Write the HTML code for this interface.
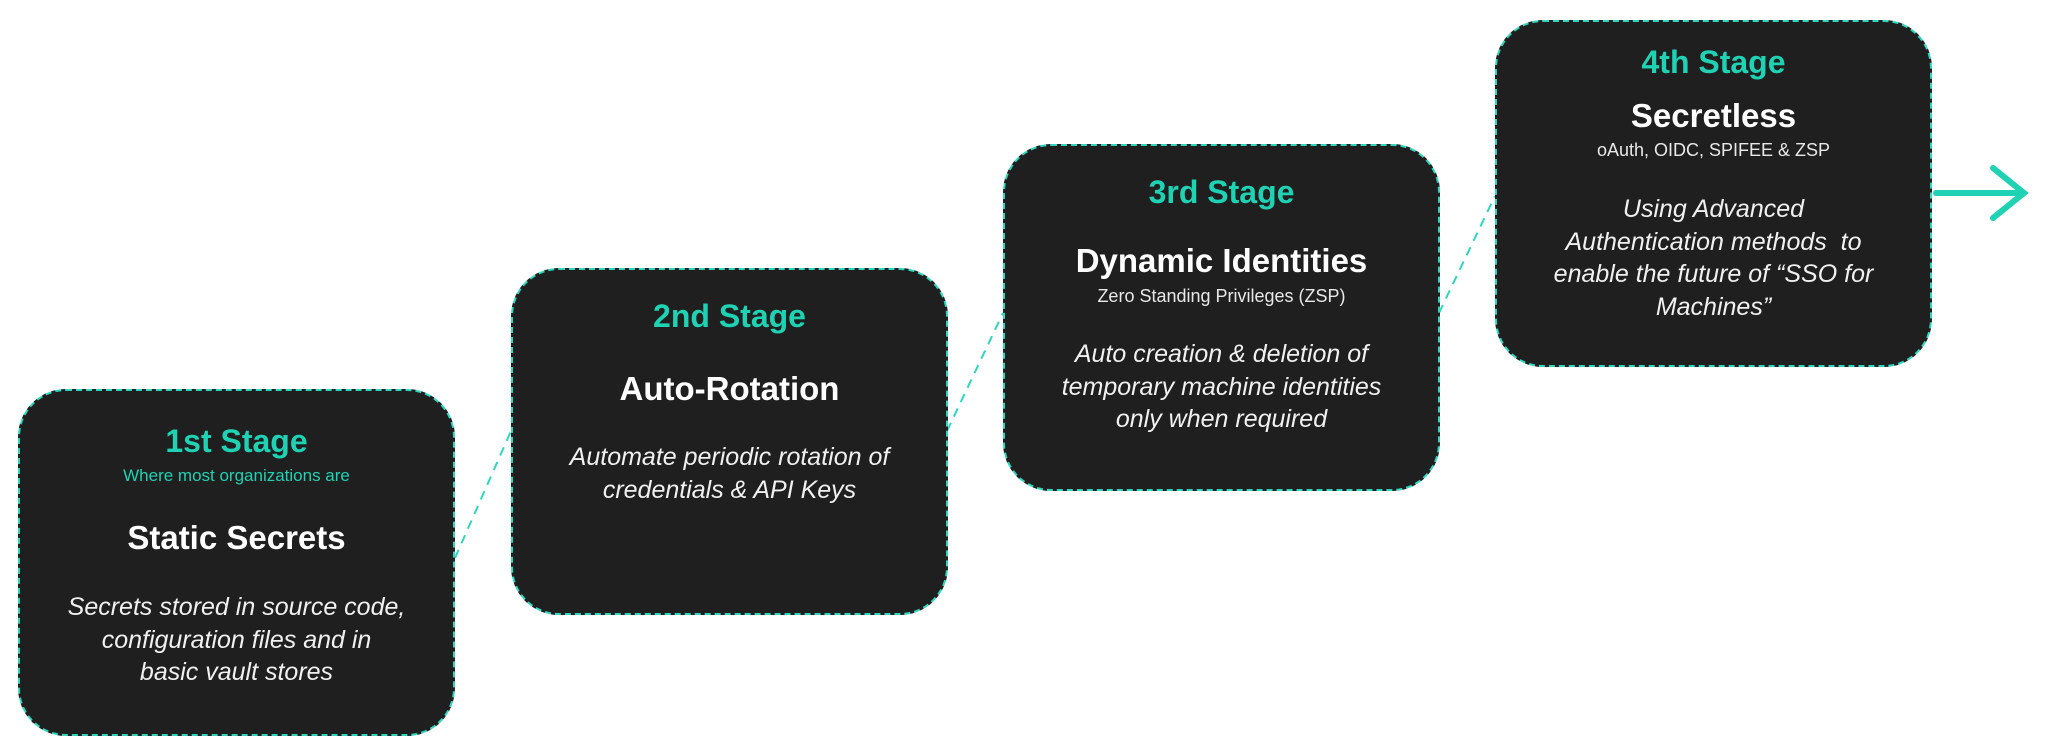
<!DOCTYPE html>
<html><head><meta charset="utf-8"><style>
html,body{margin:0;padding:0;background:#fff;}
.wrap{position:relative;width:2048px;height:756px;overflow:hidden;font-family:"Liberation Sans",sans-serif;}
.box{position:absolute;width:433px;height:343px;background:#1f1f1f;border:2px dashed #2fd6bd;border-radius:48px;box-sizing:content-box;}
.t{position:absolute;left:0;right:0;text-align:center;white-space:nowrap;}
.st{color:#1ed2b3;font-weight:bold;font-size:32px;}
.h{color:#fff;font-weight:bold;font-size:33px;}
.s{color:#e8e8e8;font-size:18px;}
.sg{color:#1ed2b3;font-size:17px;}
.i{color:#f0f0f0;font-style:italic;font-size:25px;line-height:32.5px;}
</style></head><body><div class="wrap">
<svg width="2048" height="756" style="position:absolute;left:0;top:0">
<g stroke="#2fd6bd" stroke-width="2" stroke-dasharray="9,7" fill="none">
<line x1="455" y1="558" x2="511" y2="431"/>
<line x1="947" y1="431" x2="1003" y2="313"/>
<line x1="1439" y1="313" x2="1495" y2="196"/>
</g>
<g stroke="#1ed2b3" stroke-width="6" stroke-linecap="round" fill="none">
<line x1="1936" y1="193" x2="2024" y2="193"/>
<polyline points="1993,168 2024,193 1993,218"/>
</g>
</svg>

<div class="box" style="left:18px;top:389px;">
<div class="t st" style="top:32px;">1st Stage</div>
<div class="t sg" style="top:75px;">Where most organizations are</div>
<div class="t h" style="top:128px;">Static Secrets</div>
<div class="t i" style="top:200px;">Secrets stored in source code,<br>configuration files and in<br>basic vault stores</div>
</div>

<div class="box" style="left:511px;top:268px;">
<div class="t st" style="top:28px;">2nd Stage</div>
<div class="t h" style="top:100px;">Auto-Rotation</div>
<div class="t i" style="top:171px;">Automate periodic rotation of<br>credentials &amp; API Keys</div>
</div>

<div class="box" style="left:1003px;top:144px;">
<div class="t st" style="top:28px;">3rd Stage</div>
<div class="t h" style="top:96px;">Dynamic Identities</div>
<div class="t s" style="top:140px;">Zero Standing Privileges (ZSP)</div>
<div class="t i" style="top:192px;">Auto creation &amp; deletion of<br>temporary machine identities<br>only when required</div>
</div>

<div class="box" style="left:1495px;top:20px;">
<div class="t st" style="top:22px;">4th Stage</div>
<div class="t h" style="top:75px;">Secretless</div>
<div class="t s" style="top:118px;">oAuth, OIDC, SPIFEE &amp; ZSP</div>
<div class="t i" style="top:171px;">Using Advanced<br>Authentication methods&nbsp; to<br>enable the future of “SSO for<br>Machines”</div>
</div>
</div></body></html>
